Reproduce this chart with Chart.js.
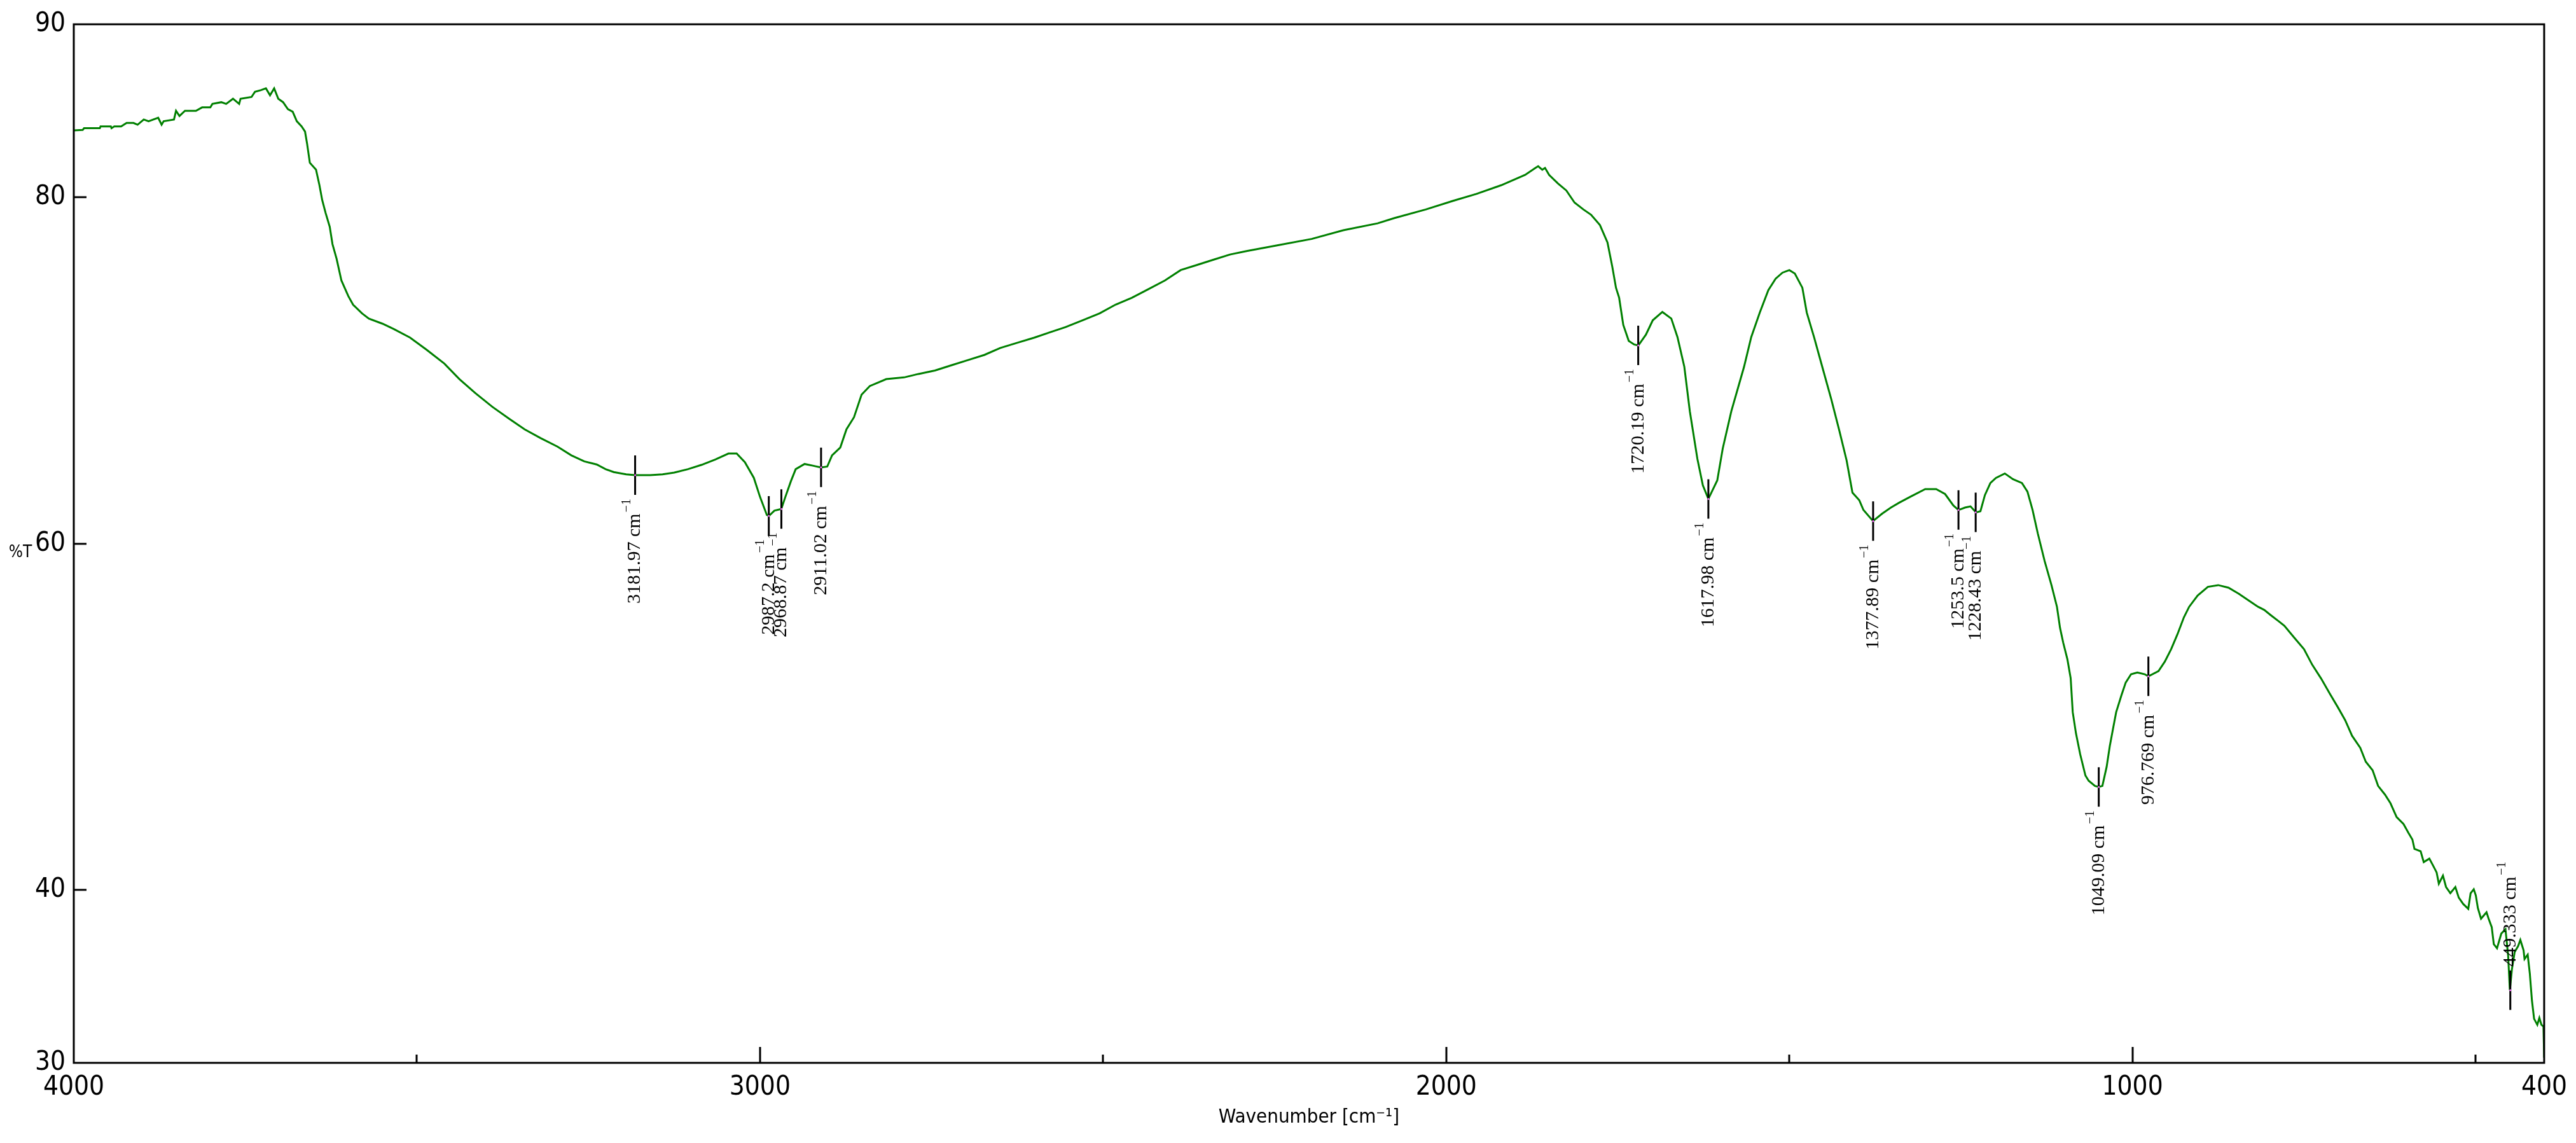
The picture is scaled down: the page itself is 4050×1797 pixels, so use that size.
<!DOCTYPE html>
<html>
<head>
<meta charset="utf-8">
<script src="https://cdn.jsdelivr.net/npm/chart.js@4.4.1/dist/chart.umd.min.js"></script>
<style>
  html, body { margin: 0; padding: 0; background: #fff; }
  #wrap { width: 4050px; height: 1797px; }
</style>
</head>
<body>
<div id="wrap"><canvas id="irChart" width="4050" height="1797"></canvas></div>
<script>
// spectrum (wavenumber in cm-1, %T)
const wavenumber = [
  4000, 3987, 3985, 3962, 3961, 3946, 3945, 3941, 3931, 3923, 3913, 3907, 3898, 3891, 3877, 3872, 3869, 3854, 3851, 3846,
  3838, 3822, 3813, 3801, 3798, 3785, 3778, 3768, 3759, 3757, 3741, 3736, 3727, 3720, 3714, 3708, 3702, 3695, 3688, 3681,
  3675, 3668, 3663, 3660, 3656, 3647, 3642, 3638, 3633, 3627, 3623, 3617, 3610, 3600, 3593, 3580, 3570, 3550, 3534, 3510,
  3486, 3460, 3438, 3415, 3390, 3365, 3343, 3320, 3295, 3275, 3256, 3238, 3225, 3213, 3195, 3182, 3160, 3142, 3125, 3105,
  3085, 3065, 3046, 3034, 3022, 3009, 3000, 2990, 2987, 2979, 2969, 2963, 2955, 2948, 2935, 2923, 2911, 2902, 2895, 2883,
  2874, 2863, 2852, 2840, 2816, 2790, 2769, 2745, 2721, 2697, 2673, 2650, 2625, 2600, 2578, 2555, 2530, 2505, 2482, 2458,
  2434, 2410, 2387, 2363, 2339, 2315, 2291, 2250, 2196, 2150, 2100, 2076, 2030, 1990, 1956, 1920, 1885, 1870, 1866, 1860,
  1856, 1850, 1837, 1825, 1813, 1800, 1789, 1776, 1765, 1758, 1752.6, 1748, 1742, 1734, 1726, 1720, 1709, 1699, 1685, 1672,
  1663, 1653, 1645, 1634, 1626, 1618, 1605, 1597, 1584.5, 1566, 1555.5, 1543, 1530.6, 1520, 1510, 1500, 1492, 1481, 1474.6, 1464,
  1452, 1439, 1427, 1416.5, 1408, 1398, 1392, 1378, 1365, 1352, 1340, 1323, 1302, 1286, 1273, 1261, 1253.5, 1244, 1236, 1228,
  1221.5, 1215, 1207, 1199, 1186, 1174, 1161, 1153, 1145.5, 1138, 1128, 1118, 1110, 1105.5, 1100.9, 1094.7, 1090, 1087, 1082.3, 1076.2,
  1068.5, 1063.8, 1054.6, 1049, 1043.8, 1037.6, 1033, 1028.3, 1023.7, 1016, 1009.8, 1002, 992.8, 982, 976.8, 962, 952.8, 943.6, 934.3, 925,
  917.3, 905, 890, 875, 860, 845, 830, 817, 808, 798.6, 786.4, 778.6, 765, 750, 738, 725, 712, 700, 690, 680,
  668, 660, 650, 642, 632, 624, 615, 605, 598, 592, 589, 580, 575.5, 567.3, 561.5, 556.7, 553.5, 547.5, 543, 536.7,
  529.4, 524.5, 518, 510.6, 507.2, 502.6, 499.6, 496.6, 492, 484, 481, 476.4, 473.4, 468.7, 462.5, 456.4, 452.5, 450, 447, 443,
  438, 434.7, 430, 428.6, 424, 420.9, 417.8, 414.7, 410, 407, 404, 401, 400
];
const transmittance = [
  83.87, 83.9, 84.0, 84.0, 84.1, 84.1, 84.0, 84.1, 84.1, 84.3, 84.3, 84.2, 84.5, 84.4, 84.6, 84.2, 84.4, 84.5, 85.0, 84.7,
  85.0, 85.0, 85.2, 85.2, 85.4, 85.5, 85.4, 85.7, 85.4, 85.7, 85.8, 86.1, 86.2, 86.3, 85.9, 86.3, 85.7, 85.5, 85.1, 84.95,
  84.4, 84.1, 83.8, 83.1, 82.0, 81.6, 80.7, 79.85, 79.1, 78.3, 77.3, 76.45, 75.2, 74.3, 73.8, 73.3, 73.0, 72.7, 72.4, 71.9,
  71.2, 70.4, 69.5, 68.7, 67.9, 67.2, 66.6, 66.1, 65.6, 65.1, 64.75, 64.57, 64.3, 64.13, 64.0, 63.95, 63.95, 64.0, 64.1, 64.3,
  64.55, 64.86, 65.2, 65.2, 64.7, 63.8, 62.7, 61.65, 61.6, 61.9, 62.0, 62.7, 63.6, 64.3, 64.6, 64.5, 64.4, 64.45, 65.1, 65.55,
  66.6, 67.3, 68.6, 69.1, 69.5, 69.6, 69.8, 70.0, 70.3, 70.6, 70.9, 71.3, 71.6, 71.9, 72.2, 72.5, 72.9, 73.3, 73.8, 74.2,
  74.7, 75.2, 75.8, 76.1, 76.4, 76.7, 76.9, 77.2, 77.6, 78.1, 78.5, 78.8, 79.3, 79.8, 80.2, 80.7, 81.3, 81.7, 81.8, 81.6,
  81.7, 81.3, 80.8, 80.4, 79.7, 79.3, 79.0, 78.4, 77.4, 76.0, 74.78, 74.2, 72.64, 71.71, 71.5, 71.45, 72.07, 72.9, 73.38, 73.0,
  71.93, 70.21, 67.65, 64.9, 63.36, 62.58, 63.65, 65.5, 67.65, 70.21, 71.93, 73.35, 74.64, 75.3, 75.65, 75.8, 75.6, 74.78, 73.35, 71.93,
  70.21, 68.36, 66.5, 64.8, 62.94, 62.5, 61.94, 61.3, 61.72, 62.08, 62.36, 62.72, 63.15, 63.15, 62.86, 62.2, 61.94, 62.08, 62.15, 61.8,
  61.87, 62.8, 63.5, 63.79, 64.05, 63.72, 63.5, 63.0, 61.94, 60.6, 59.0, 57.6, 56.35, 55.13, 54.28, 53.3, 52.22, 50.26, 49.04, 47.84,
  46.6, 46.3, 46.0, 45.94, 46.0, 47.1, 48.3, 49.3, 50.26, 51.24, 51.97, 52.45, 52.55, 52.45, 52.33, 52.63, 53.18, 53.9, 54.77, 55.74,
  56.35, 57.0, 57.5, 57.6, 57.45, 57.1, 56.7, 56.35, 56.17, 55.87, 55.5, 55.25, 54.6, 53.9, 53.0, 52.2, 51.3, 50.5, 49.8, 48.9,
  48.2, 47.4, 46.9, 46.0, 45.5, 45.0, 44.2, 43.8, 43.3, 42.9, 42.36, 42.22, 41.6, 41.8, 41.37, 41.0, 40.35, 40.82, 40.16, 39.8,
  40.16, 39.55, 39.18, 38.9, 39.8, 40.03, 39.67, 38.94, 38.33, 38.7, 38.33, 37.84, 36.86, 36.62, 37.47, 37.72, 36.2, 34.2, 35.4, 36.4,
  36.74, 37.1, 36.5, 36.0, 36.25, 35.16, 33.6, 32.55, 32.2, 32.6, 32.2, 32.1, 30.3
];

// picked peaks
const peakWavenumber = [3181.97, 2987.2, 2968.87, 2911.02, 1720.19, 1617.98, 1377.89, 1253.5, 1228.43, 1049.09, 976.769, 449.333];
const peakTransmittance = [63.95, 61.6, 62.0, 64.4, 71.45, 62.58, 61.3, 61.94, 61.8, 45.94, 52.33, 34.2];
const peakText = ['3181.97 cm', '2987.2 cm', '2968.87 cm', '2911.02 cm', '1720.19 cm', '1617.98 cm',
                  '1377.89 cm', '1253.5 cm', '1228.43 cm', '1049.09 cm', '976.769 cm', '449.333 cm'];

// axes
const xLabelTicks = [4000, 3000, 2000, 1000, 400];
const xMajorTicks = [3000, 2000, 1000];
const xMinorTicks = [3500, 2500, 1500, 500];
const yLabelTicks = [90, 80, 60, 40, 30];
const yInnerTicks = [80, 60, 40];

const NARROW = "'Liberation Sans Narrow', 'Arial Narrow', 'DejaVu Sans Condensed', sans-serif";
const SERIF = "'Liberation Serif', 'Times New Roman', serif";

const spectrum = wavenumber.map((w, i) => ({x: w, y: transmittance[i]}));
const peaks = peakWavenumber.map((w, i) => ({x: w, y: peakTransmittance[i]}));

const frameAndLabels = {
    id: 'frameAndLabels',
    afterDraw(chart) {
        const {ctx, chartArea: a, scales: {x, y}} = chart;
        ctx.save();

        // frame + inner ticks
        ctx.strokeStyle = '#000';
        ctx.lineWidth = 3;
        ctx.strokeRect(a.left, a.top, a.right - a.left, a.bottom - a.top);
        ctx.beginPath();
        yInnerTicks.forEach(v => {
            const py = Math.round(y.getPixelForValue(v));
            ctx.moveTo(a.left, py); ctx.lineTo(a.left + 20, py);
        });
        xMajorTicks.forEach(v => {
            const px = Math.round(x.getPixelForValue(v));
            ctx.moveTo(px, a.bottom); ctx.lineTo(px, a.bottom - 25);
        });
        xMinorTicks.forEach(v => {
            const px = Math.round(x.getPixelForValue(v));
            ctx.moveTo(px, a.bottom); ctx.lineTo(px, a.bottom - 13);
        });
        ctx.stroke();

        // %T
        ctx.fillStyle = '#000';
        ctx.font = '26px ' + NARROW;
        ctx.textAlign = 'center';
        ctx.textBaseline = 'middle';
        ctx.fillText('%T', 32, 869);

        // peak labels, rotated, reading upward
        const half = 31, gap = 6;
        peakWavenumber.forEach((w, i) => {
            const px = x.getPixelForValue(w);
            const py = y.getPixelForValue(peakTransmittance[i]);
            ctx.font = '30px ' + SERIF;
            const wMain = ctx.measureText(peakText[i]).width;
            ctx.font = '20px ' + SERIF;
            const wSup = ctx.measureText('\u22121').width + 2;
            const total = wMain + wSup;
            let start = py + half + gap + total;
            if (start > a.bottom - 5) start = py - half - gap;
            ctx.save();
            ctx.translate(px, start);
            ctx.rotate(-Math.PI / 2);
            ctx.textAlign = 'left';
            ctx.textBaseline = 'middle';
            ctx.font = '30px ' + SERIF;
            ctx.fillText(peakText[i], 0, 0);
            ctx.font = '20px ' + SERIF;
            ctx.fillText('\u22121', wMain + 2, -13);
            ctx.restore();
        });
        ctx.restore();
    }
};

new Chart(document.getElementById('irChart').getContext('2d'), {
    type: 'line',
    data: {
        datasets: [
            { data: spectrum, borderColor: '#008000', borderWidth: 3, pointRadius: 0, tension: 0, order: 2 },
            { data: peaks, showLine: false, pointStyle: 'line', rotation: 90, pointRadius: 31,
              borderColor: '#000', borderWidth: 3, order: 1 },
            { data: peaks, showLine: false, pointStyle: 'circle', pointRadius: 1.5,
              backgroundColor: '#ff66ff', borderWidth: 0, order: 0 }
        ]
    },
    options: {
        responsive: false,
        devicePixelRatio: 1,
        animation: false,
        layout: { padding: { left: 0, right: 43, top: 29, bottom: 0 } },
        plugins: { legend: { display: false }, tooltip: { enabled: false } },
        scales: {
            x: {
                type: 'linear', reverse: true, min: 400, max: 4000,
                grid: { display: false, drawTicks: false }, border: { display: false },
                afterBuildTicks: s => { s.ticks = xLabelTicks.map(v => ({value: v})); },
                afterFit: s => { s.height = 126; },
                ticks: { autoSkip: false, maxRotation: 0, padding: 14, color: '#000',
                         font: { family: NARROW, size: 42 }, callback: v => String(v) },
                title: { display: true, text: 'Wavenumber [cm\u207B\u00B9]', color: '#000',
                         font: { family: NARROW, size: 31 }, padding: { top: 0, bottom: 21 } }
            },
            y: {
                type: 'linear', min: 30, max: 90,
                grid: { display: false, drawTicks: false }, border: { display: false },
                afterBuildTicks: s => { s.ticks = yLabelTicks.map(v => ({value: v})); },
                afterFit: s => { s.width = 116; },
                ticks: { padding: 13, color: '#000', font: { family: NARROW, size: 42 },
                         callback: v => String(v) }
            }
        }
    },
    plugins: [frameAndLabels]
});
</script>
</body>
</html>
